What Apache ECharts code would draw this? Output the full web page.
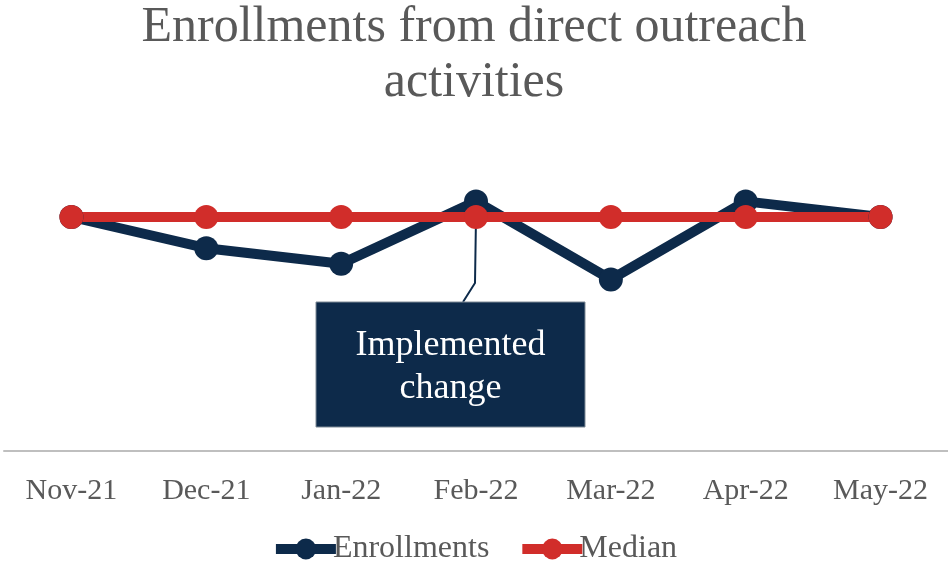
<!DOCTYPE html>
<html>
<head>
<meta charset="utf-8">
<script src="https://cdn.jsdelivr.net/npm/echarts@6/dist/echarts.min.js"></script>
<style>
  html, body { margin: 0; padding: 0; background: #fff; }
  #chart { width: 948px; height: 563px; }
</style>
</head>
<body>
<div id="chart"></div>
<script>
var months = ['Nov-21', 'Dec-21', 'Jan-22', 'Feb-22', 'Mar-22', 'Apr-22', 'May-22'];
var enrollments = [15, 13, 12, 16, 11, 16, 15];
var median = [15, 15, 15, 15, 15, 15, 15];
var noteText = 'Implemented\nchange';
var noteIndex = 3;

var navy = '#0d2a4a';
var red = '#d12d2a';
var grey = '#595959';
var serif = '"Liberation Serif", "Times New Roman", serif';

var myChart = echarts.init(document.getElementById('chart'));

var option = {
    animation: false,
    title: {
        text: 'Enrollments from direct outreach\nactivities',
        left: 'center',
        top: -5,
        textStyle: {
            fontFamily: serif,
            fontWeight: 'normal',
            fontSize: 50,
            lineHeight: 55,
            color: grey
        }
    },
    legend: {
        top: 528,
        left: 'center',
        itemWidth: 60,
        itemHeight: 26,
        itemGap: 28,
        lineStyle: { width: 10 },
        textStyle: { fontFamily: serif, fontSize: 32, color: grey, padding: [0, 0, 0, -8] },
        data: ['Enrollments', 'Median']
    },
    grid: { left: 4, right: 0, top: 139, bottom: 112 },
    xAxis: {
        type: 'category',
        data: months,
        boundaryGap: true,
        axisLine: { lineStyle: { color: '#bfbfbf', width: 2 } },
        axisTick: { show: false },
        axisLabel: { fontFamily: serif, fontSize: 30, color: grey, margin: 25 }
    },
    yAxis: {
        type: 'value',
        min: 0,
        max: 20,
        show: false,
        splitLine: { show: false }
    },
    series: [
        {
            name: 'Enrollments',
            type: 'line',
            data: enrollments,
            color: navy,
            lineStyle: { width: 10, color: navy },
            symbol: 'circle',
            symbolSize: 24,
            itemStyle: { color: navy }
        },
        {
            name: 'Median',
            type: 'line',
            data: median,
            color: red,
            lineStyle: { width: 10, color: red },
            symbol: 'circle',
            symbolSize: 24,
            itemStyle: { color: red }
        }
    ]
};
myChart.setOption(option);

// callout box hooked to the Feb-22 point
var p = myChart.convertToPixel({ seriesIndex: 1 }, [noteIndex, median[noteIndex]]);
var boxW = 269, boxH = 125, boxX = p[0] - 160, boxY = p[1] + 85;
myChart.setOption({
    graphic: [
        {
            type: 'polyline',
            z: 1,
            shape: { points: [[p[0], p[1]], [p[0] - 1, p[1] + 66], [p[0] - 13, boxY]] },
            style: { stroke: navy, lineWidth: 2, fill: null }
        },
        {
            type: 'rect',
            z: 1,
            shape: { x: boxX, y: boxY, width: boxW, height: boxH },
            style: { fill: navy, stroke: '#7f8a96', lineWidth: 1 }
        },
        {
            type: 'text',
            z: 2,
            x: boxX + boxW / 2,
            y: boxY + boxH / 2 + 3,
            style: {
                text: noteText,
                fill: '#ffffff',
                font: '36px ' + serif,
                lineHeight: 43,
                align: 'center',
                verticalAlign: 'middle'
            }
        }
    ]
});

window.addEventListener('resize', function () { myChart.resize(); });
</script>
</body>
</html>
